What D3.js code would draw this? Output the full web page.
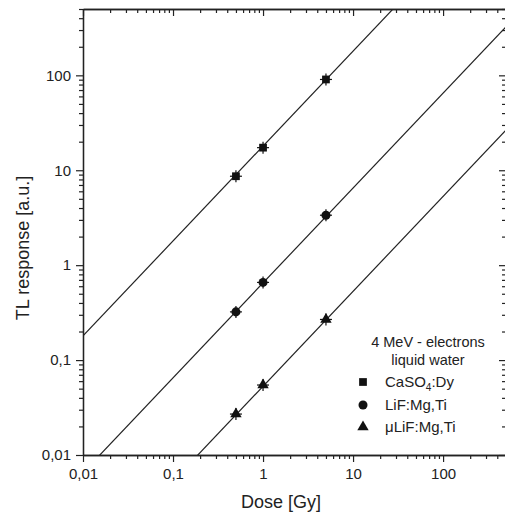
<!DOCTYPE html>
<html><head><meta charset="utf-8">
<script src="https://cdn.jsdelivr.net/npm/d3@7"></script>
<style>
html,body{margin:0;padding:0;background:#fff;}
text{font-family:"Liberation Sans",Arial,sans-serif;fill:#222;}
</style></head>
<body><svg id="c" width="505" height="515"></svg>
<script>
// ---- data ----
const doses = [0.5, 1, 5];
const caso4 = [8.65, 17.3, 90.5];
const lif = [0.322, 0.658, 3.36];
const mulif = [0.027, 0.0546, 0.268];
const seriesNames = ["CaSO4:Dy", "LiF:Mg,Ti", "\u03bcLiF:Mg,Ti"];
const fitCoef = [18, 0.65, 0.053];   // linear fit: response = k * dose
const majorTicks = [0.01, 0.1, 1, 10, 100];
const majorLabels = ["0,01", "0,1", "1", "10", "100"];
const legendTitle = ["4 MeV - electrons", "liquid water"];

const svg = d3.select("#c");
const L = 83, R = 506, T = 9, B = 455;
const x = d3.scaleLog().domain([0.01, 500]).range([L, R]);
const y = d3.scaleLog().domain([0.01, 500]).range([B, T]);

const minor = [];
for (let d = 0.01; d < 500; d *= 10) for (let k = 2; k <= 9; k++) { const v = +(d * k).toPrecision(3); if (v <= 500) minor.push(v); }

const lab = d3.scaleOrdinal().domain(majorTicks).range(majorLabels);
function styleAxis(g){ g.select(".domain").attr("stroke","#222").attr("stroke-width",1.3); g.selectAll(".tick line").attr("stroke","#222").attr("stroke-width",1.2); g.selectAll("text").style("font-size","15px").attr("fill","#222"); }

// bottom
svg.append("g").attr("transform",`translate(0,${B})`).call(d3.axisBottom(x).tickValues(minor).tickSize(4).tickFormat("").tickSizeOuter(0)).call(styleAxis);
svg.append("g").attr("transform",`translate(0,${B})`).call(d3.axisBottom(x).tickValues(majorTicks).tickSize(7).tickPadding(6).tickFormat(d=>lab(d)).tickSizeOuter(0)).call(styleAxis);
// left
svg.append("g").attr("transform",`translate(${L},0)`).call(d3.axisLeft(y).tickValues(minor).tickSize(4).tickFormat("").tickSizeOuter(0)).call(styleAxis);
svg.append("g").attr("transform",`translate(${L},0)`).call(d3.axisLeft(y).tickValues(majorTicks).tickSize(7).tickPadding(5).tickFormat(d=>lab(d)).tickSizeOuter(0)).call(styleAxis);
// top (inward)
svg.append("g").attr("transform",`translate(0,${T})`).call(d3.axisBottom(x).tickValues(minor).tickSize(4).tickFormat("").tickSizeOuter(0)).call(styleAxis);
svg.append("g").attr("transform",`translate(0,${T})`).call(d3.axisBottom(x).tickValues(majorTicks).tickSize(7).tickFormat("").tickSizeOuter(0)).call(styleAxis);
// right (inward)
svg.append("g").attr("transform",`translate(${R},0)`).call(d3.axisLeft(y).tickValues(minor).tickSize(4).tickFormat("").tickSizeOuter(0)).call(styleAxis);
svg.append("g").attr("transform",`translate(${R},0)`).call(d3.axisLeft(y).tickValues(majorTicks).tickSize(7).tickFormat("").tickSizeOuter(0)).call(styleAxis);

// clip
svg.append("clipPath").attr("id","clip").append("rect").attr("x",L).attr("y",T).attr("width",R-L).attr("height",B-T);

// fit lines
const xs = x.domain();
const plot = svg.append("g").attr("clip-path","url(#clip)");
fitCoef.forEach(k=>{
  plot.append("line")
    .attr("x1",x(xs[0])).attr("y1",y(k*xs[0]))
    .attr("x2",x(xs[1])).attr("y2",y(k*xs[1]))
    .attr("stroke","#222").attr("stroke-width",1.2);
});

// markers
const shapes = [d3.symbolSquare, d3.symbolCircle, d3.symbolTriangle];
const sizes = [60, 64, 56];
[caso4, lif, mulif].forEach((vals,i)=>{
  vals.forEach((v,j)=>{
    const cx = x(doses[j]), cy = y(v);
    const g = plot.append("g").attr("transform",`translate(${cx},${cy})`);
    g.append("line").attr("x1",-6).attr("x2",6).attr("y1",0).attr("y2",0).attr("stroke","#111").attr("stroke-width",1.2);
    g.append("line").attr("x1",0).attr("x2",0).attr("y1",-6).attr("y2",6).attr("stroke","#111").attr("stroke-width",1.2);
    g.append("path").attr("d",d3.symbol().type(shapes[i]).size(sizes[i])()).attr("fill","#111");
  });
});

// legend
const lg = svg.append("g");
legendTitle.forEach((t,i)=>{
  lg.append("text").attr("x",428).attr("y",347+i*18).attr("text-anchor","middle").style("font-size","14.5px").text(t);
});
const rowY = [382, 405, 427];
seriesNames.forEach((n,i)=>{
  lg.append("path").attr("transform",`translate(363,${rowY[i]})`).attr("d",d3.symbol().type(shapes[i]).size(sizes[i])()).attr("fill","#111");
  const t = lg.append("text").attr("x",385).attr("y",rowY[i]+5).style("font-size","15px");
  if (i===0){
    t.append("tspan").text("CaSO");
    t.append("tspan").attr("dy",4).style("font-size","10px").text("4");
    t.append("tspan").attr("dy",-4).text(":Dy");
  } else t.text(n);
});

// axis titles
svg.append("text").attr("x",281).attr("y",508).attr("text-anchor","middle").style("font-size","18px").text("Dose [Gy]");
svg.append("text").attr("transform","translate(29,248) rotate(-90)").attr("text-anchor","middle").style("font-size","18px").text("TL response [a.u.]");
</script></body></html>
